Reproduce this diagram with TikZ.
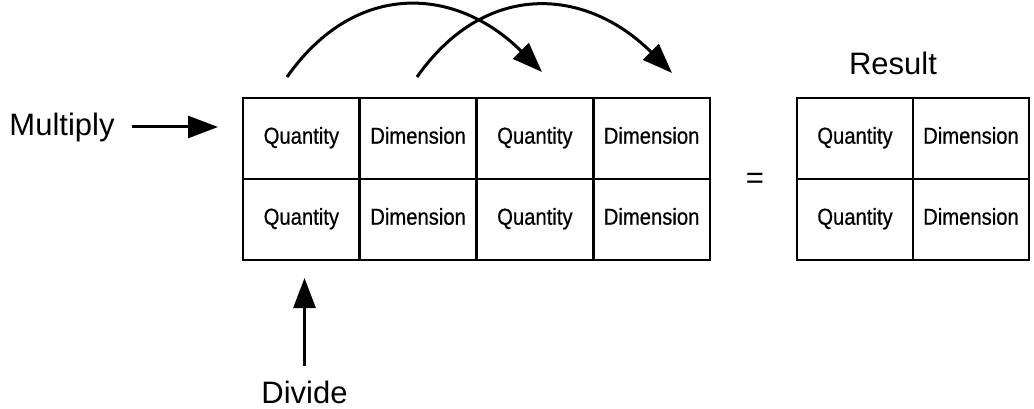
\documentclass[tikz,border=0pt]{standalone}
\usepackage{fontspec}
\setmainfont{Liberation Sans}
\newfontfamily\cellfont[FakeStretch=0.88,FakeBold=0.6]{Liberation Sans}
\usetikzlibrary{arrows.meta}
\begin{document}
\begin{tikzpicture}[x=1pt,y=-1pt,
  cell/.style={draw,line width=2.8pt,minimum width=116.75pt,minimum height=81pt,inner sep=0pt,
    font=\cellfont\fontsize{23}{26}\selectfont},
  rcell/.style={cell,minimum width=116pt},
  lbl/.style={inner sep=0pt,anchor=base,font=\fontsize{31}{36}\selectfont},
  arr/.style={line width=3pt,-{Triangle[length=30pt,width=22pt]}}]
\useasboundingbox (0,0) rectangle (1034,409);
% left grid
\node[cell] (c11) at (301.4,138.5) {\strut Quantity};
\node[cell] (c12) at (418.1,138.5) {\strut Dimension};
\node[cell] (c13) at (534.9,138.5) {\strut Quantity};
\node[cell] (c14) at (651.6,138.5) {\strut Dimension};
\node[cell] (c21) at (301.4,219.5) {\strut Quantity};
\node[cell] (c22) at (418.1,219.5) {\strut Dimension};
\node[cell] (c23) at (534.9,219.5) {\strut Quantity};
\node[cell] (c24) at (651.6,219.5) {\strut Dimension};
% result grid
\node[rcell] (r11) at (855,138.5) {\strut Quantity};
\node[rcell] (r12) at (971,138.5) {\strut Dimension};
\node[rcell] (r21) at (855,219.5) {\strut Quantity};
\node[rcell] (r22) at (971,219.5) {\strut Dimension};
% labels
\node[lbl] (mult) at (62,136) {Multiply};
\node[lbl] (res) at (893,75) {Result};
\node[lbl] (div) at (304.5,403) {Divide};
\node[inner sep=0pt,font=\fontsize{31}{36}\selectfont] (eq) at (755,181) {=};
% arrow ends
\coordinate (mtip) at (218,127);
\coordinate (dtip) at (304.5,278);
\coordinate (a1s) at (287,77);
\coordinate (a1e) at (542,72);
\coordinate (a2s) at (417,77);
\coordinate (a2e) at (672,73);
% arrows
\draw[arr,shorten <=17pt] (mult.east |- mtip) -- (mtip);
\draw[arr,shorten <=14pt] (div.north) -- (dtip);
\draw[arr] (a1s) .. controls (356,-21) and (457,-13) .. (a1e);
\draw[arr] (a2s) .. controls (486,-21) and (587,-12) .. (a2e);
\end{tikzpicture}
\end{document}
